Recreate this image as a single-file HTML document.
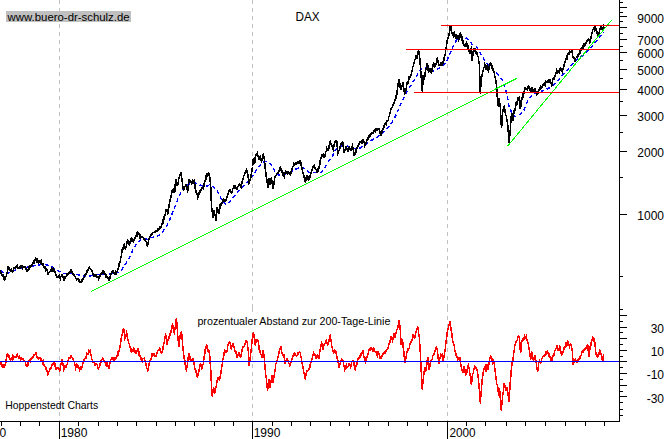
<!DOCTYPE html>
<html lang="de"><head><meta charset="utf-8"><title>DAX</title>
<style>html,body{margin:0;padding:0;background:#fff}body{width:667px;height:439px;overflow:hidden}svg{display:block}text{font-family:"Liberation Sans",Arial,sans-serif;font-size:12px;fill:#000}</style></head><body>
<svg width="667" height="439" viewBox="0 0 667 439">
<rect width="667" height="439" fill="#fff"/>
<g stroke="#c0c0c0" stroke-width="1" stroke-dasharray="4 4" shape-rendering="crispEdges">
<line x1="59.5" y1="0" x2="59.5" y2="308"/>
<line x1="59.5" y1="308" x2="59.5" y2="421"/>
<line x1="252.5" y1="0" x2="252.5" y2="308"/>
<line x1="252.5" y1="308" x2="252.5" y2="421"/>
<line x1="447.5" y1="0" x2="447.5" y2="308"/>
<line x1="447.5" y1="308" x2="447.5" y2="421"/>
</g>
<polyline fill="none" stroke="#0000ff" stroke-width="1.45" stroke-dasharray="3.8 2.9" shape-rendering="crispEdges" points="0.9,270.6 5.4,274.2 12.6,271.5 19.8,268.4 27.0,267.3 36.0,265.2 45.0,264.3 52.2,267.0 57.6,270.6 63.0,273.3 72.0,273.3 79.2,275.1 86.4,276.9 93.6,275.0 100.8,274.2 108.0,274.2 115.2,272.6 119.5,272.6 123.8,266.8 128.0,260.2 131.5,253.4 134.0,247.4 137.4,243.2 141.0,239.5 144.5,238.8 147.5,239.4 151.5,237.6 157.4,236.4 161.9,232.6 166.3,226.7 169.3,220.7 172.2,213.3 175.2,205.9 178.1,198.5 181.1,192.6 184.1,188.1 187.0,185.2 191.5,183.1 195.9,183.1 200.4,185.2 204.8,186.7 209.3,185.2 213.7,186.7 217.3,191.1 221.1,198.5 225.6,204.4 227.3,204.7 230.9,200.2 234.6,195.6 238.2,191.1 241.9,187.4 245.5,183.8 249.2,180.1 252.8,175.6 256.5,170.1 260.1,165.6 263.8,161.9 267.4,161.4 271.0,164.6 274.7,171.0 278.3,175.2 282.0,174.7 285.6,173.8 290.2,172.3 294.7,169.7 298.4,167.9 302.0,167.4 305.7,169.2 309.3,172.3 314.8,172.3 321.3,172.3 324.4,168.2 328.8,160.8 332.5,156.1 334.8,150.6 338.5,147.4 341.4,146.2 344.4,145.8 347.6,146.2 351.5,147.1 354.7,148.7 357.9,149.0 361.1,147.4 364.3,145.5 368.3,142.7 372.3,139.8 376.3,137.6 380.3,134.7 384.3,131.2 387.4,128.0 390.6,124.3 393.8,119.5 397.0,113.1 399.4,107.6 401.8,102.0 403.7,98.3 406.4,92.9 409.1,88.3 411.9,83.8 414.6,79.2 417.3,74.7 420.1,70.1 422.8,67.7 426.4,67.7 429.2,70.1 432.8,71.0 436.5,69.6 440.1,67.7 443.7,65.2 446.5,61.5 449.2,55.5 451.9,49.1 454.7,42.8 457.4,39.1 460.1,36.8 462.9,36.8 466.5,38.2 470.2,41.0 472.0,44.1 476.8,47.5 480.3,53.0 483.7,59.1 487.1,63.3 491.2,67.4 495.3,71.5 499.4,75.6 502.8,81.0 504.9,87.2 506.7,93.4 508.0,99.6 509.0,107.1 510.8,110.5 512.8,115.3 516.2,116.7 520.3,113.9 523.8,110.5 525.8,105.0 527.9,100.9 530.6,96.8 533.3,94.1 537.7,92.7 541.1,91.3 545.9,89.5 550.7,87.2 554.1,84.5 556.9,81.7 560.5,77.4 565.0,72.9 569.6,67.4 573.2,62.8 576.9,59.6 581.4,56.5 586.0,52.8 590.6,48.3 594.2,43.7 597.8,39.2 601.5,34.6 603.3,31.9"/>
<polyline fill="none" stroke="#000" stroke-width="1.6" stroke-linejoin="miter" shape-rendering="crispEdges" points="0.0,270.6 0.5,271.1 0.9,272.9 1.4,273.7 1.8,275.1 2.2,275.7 2.6,276.0 3.0,275.1 3.4,275.3 3.8,277.5 4.2,276.6 4.6,276.8 5.0,278.9 5.4,278.1 5.9,276.6 6.3,276.0 6.8,273.8 7.2,272.4 7.7,270.0 8.1,267.0 8.6,266.9 9.0,268.7 9.4,269.8 9.9,269.7 10.3,270.1 10.8,270.8 11.2,271.0 11.7,269.9 12.2,271.8 12.6,271.5 13.1,270.8 13.5,269.3 13.9,267.7 14.4,267.9 14.9,268.4 15.3,267.2 15.8,267.5 16.2,267.5 16.7,266.9 17.1,266.1 17.6,268.2 18.0,268.4 18.4,267.8 18.9,268.4 19.4,267.2 19.8,267.0 20.2,268.0 20.6,267.9 21.0,266.2 21.5,266.3 21.9,266.5 22.3,268.2 22.7,267.0 23.1,267.5 23.5,266.8 24.0,267.2 24.4,267.0 24.8,266.9 25.2,267.3 25.6,268.4 26.1,269.3 26.6,271.0 27.0,271.0 27.4,270.6 27.9,270.4 28.4,269.5 28.8,267.9 29.2,268.5 29.7,267.4 30.1,265.8 30.6,266.9 31.1,266.7 31.5,265.2 31.9,265.4 32.4,264.0 32.8,263.7 33.3,262.5 33.8,261.2 34.2,261.9 34.6,260.7 35.1,259.4 35.5,258.2 36.0,258.5 36.5,260.3 36.9,261.6 37.3,260.6 37.8,262.5 38.2,263.0 38.7,261.9 39.1,261.1 39.6,261.2 40.0,262.0 40.5,261.2 41.0,262.8 41.4,261.7 41.8,263.8 42.3,264.3 42.8,263.7 43.2,265.7 43.6,265.3 44.1,267.0 44.5,267.6 45.0,267.0 45.4,267.7 45.8,269.6 46.3,268.7 46.7,268.9 47.1,270.6 47.7,272.8 48.2,274.5 48.6,272.7 49.1,272.3 49.5,272.0 50.0,271.6 50.4,270.6 50.9,269.5 51.3,269.0 51.8,270.5 52.2,269.0 52.6,270.1 53.1,268.8 53.5,270.4 54.0,269.9 54.5,270.7 54.9,271.5 55.4,272.9 55.8,274.5 56.2,275.8 56.7,276.9 57.2,276.7 57.6,276.6 58.0,277.0 58.5,275.7 59.0,275.2 59.4,275.1 59.8,277.4 60.3,278.7 60.8,277.0 61.2,276.0 61.6,276.4 62.1,274.2 62.5,275.8 63.0,277.5 63.5,277.8 63.9,280.5 64.3,279.4 64.8,278.9 65.2,276.7 65.7,276.9 66.2,276.6 66.6,276.0 67.1,274.1 67.5,274.8 68.0,273.8 68.4,273.3 68.9,273.3 69.3,272.2 69.8,272.6 70.2,272.3 70.6,270.3 71.1,271.0 71.5,270.6 72.0,272.5 72.5,273.8 72.9,273.3 73.4,273.4 73.8,274.6 74.2,275.5 74.7,276.0 75.2,276.5 75.6,277.5 76.0,278.3 76.5,279.6 77.0,279.1 77.4,279.4 77.8,278.5 78.3,278.7 78.8,279.3 79.2,281.1 79.6,280.3 80.1,282.3 80.5,282.0 81.0,281.9 81.4,280.5 81.9,279.9 82.3,280.7 82.8,279.6 83.2,278.3 83.7,277.4 84.2,277.2 84.6,277.0 85.0,275.0 85.5,275.1 86.0,273.6 86.4,272.5 86.8,272.5 87.3,270.6 87.7,269.8 88.1,270.1 88.6,267.9 89.0,267.6 89.4,267.3 89.9,268.3 90.4,269.5 90.8,269.2 91.3,269.3 91.8,270.6 92.2,271.1 92.7,273.4 93.1,274.0 93.6,276.0 94.0,276.5 94.5,276.5 94.9,274.8 95.4,274.9 95.8,275.9 96.3,275.1 96.8,276.1 97.2,277.2 97.7,276.9 98.1,277.2 98.6,278.7 99.0,277.3 99.5,277.6 99.9,275.5 100.4,274.8 100.8,274.2 101.2,273.4 101.6,272.7 102.1,272.1 102.5,272.6 102.9,271.0 103.4,270.9 103.9,271.2 104.3,273.9 104.8,274.4 105.3,274.2 105.7,275.8 106.1,275.1 106.6,276.8 107.0,277.3 107.4,276.9 107.9,277.2 108.3,279.2 108.8,280.4 109.2,280.5 109.7,279.1 110.2,276.9 110.7,275.1 111.2,273.8 111.6,273.0 112.0,271.9 112.5,271.6 113.0,271.1 113.4,272.6 113.8,272.4 114.3,273.3 114.8,274.3 115.3,274.0 115.7,272.1 116.2,273.2 116.6,271.9 117.0,271.6 117.4,270.7 117.9,269.8 118.3,268.1 118.7,266.8 119.1,264.0 119.6,264.2 120.0,261.4 120.4,260.7 120.8,257.8 121.2,256.4 121.6,253.7 122.0,251.0 122.4,248.9 122.9,249.0 123.3,247.0 123.8,245.1 124.2,244.4 124.6,245.2 125.0,248.4 125.4,248.9 125.9,247.1 126.4,246.1 126.8,243.1 127.3,240.9 127.8,240.0 128.3,241.6 128.8,243.8 129.3,244.4 129.7,242.3 130.1,242.9 130.5,242.0 130.9,240.5 131.3,238.5 131.8,240.0 132.3,238.3 132.7,240.7 133.2,241.9 133.7,241.5 134.1,239.3 134.5,238.9 134.9,237.9 135.3,237.6 135.7,236.4 136.1,235.6 136.5,234.9 136.9,235.2 137.3,232.4 137.7,232.0 138.1,232.6 138.6,232.8 139.1,234.1 139.6,236.4 140.0,235.4 140.5,238.1 140.9,237.9 141.3,235.9 141.7,237.3 142.2,236.9 142.6,237.6 143.0,237.5 143.4,238.0 143.8,239.2 144.2,239.4 144.6,239.2 145.0,240.0 145.4,240.1 145.9,241.5 146.3,241.9 146.7,244.1 147.2,245.5 147.6,245.9 148.1,243.1 148.6,239.8 149.1,238.5 149.5,236.9 149.9,236.7 150.3,236.6 150.7,236.4 151.1,234.5 151.5,234.1 151.9,234.6 152.3,233.8 152.7,232.9 153.2,232.4 153.6,232.4 154.0,232.6 154.4,231.7 154.8,231.4 155.3,232.1 155.7,231.3 156.1,230.6 156.5,231.4 157.0,231.7 157.4,231.1 157.8,229.3 158.3,229.6 158.7,229.0 159.1,229.6 159.5,229.2 160.0,227.0 160.4,226.7 160.9,227.7 161.3,226.6 161.8,224.0 162.2,224.2 162.7,223.7 163.2,219.8 163.7,220.0 164.2,216.3 164.6,215.5 165.0,214.9 165.5,213.0 165.9,211.0 166.3,208.9 166.8,211.3 167.3,212.1 167.8,213.3 168.3,208.8 168.8,207.7 169.3,204.4 169.7,200.7 170.1,199.5 170.5,200.2 170.9,195.6 171.3,195.6 171.8,192.5 172.2,191.0 172.7,192.6 173.1,189.6 173.6,189.3 174.1,189.7 174.6,192.6 175.0,189.5 175.4,182.2 175.8,179.3 176.2,182.1 176.7,182.9 177.2,185.0 177.6,185.2 178.1,184.5 178.5,180.6 179.0,177.8 179.4,177.9 179.8,173.8 180.3,175.6 180.7,173.5 181.1,172.4 181.6,177.5 182.1,179.4 182.6,185.2 183.1,187.6 183.6,189.8 184.1,189.6 184.5,186.7 184.9,186.6 185.3,186.3 185.7,186.2 186.1,183.7 186.6,185.7 187.1,188.4 187.6,192.6 188.1,187.2 188.6,184.2 189.1,179.3 189.5,181.0 189.9,180.4 190.3,181.0 190.7,181.8 191.1,182.4 191.5,183.7 191.9,182.9 192.3,181.1 192.7,182.2 193.1,183.6 193.5,180.9 193.9,180.7 194.3,183.7 194.7,183.5 195.1,187.7 195.5,190.0 195.9,191.1 196.3,192.8 196.7,193.1 197.1,194.0 197.5,195.6 197.9,197.6 198.3,197.0 198.7,194.1 199.1,192.5 199.6,193.5 200.0,192.7 200.4,189.6 200.8,189.4 201.2,189.0 201.6,189.6 202.1,187.9 202.5,187.9 202.9,187.5 203.3,188.1 203.7,186.6 204.1,184.1 204.6,182.1 205.0,181.6 205.4,179.3 205.8,179.6 206.3,175.5 206.8,175.6 207.2,173.3 207.6,173.3 208.0,175.3 208.5,174.5 208.9,173.6 209.3,174.8 209.8,177.7 210.2,180.9 210.7,186.7 211.1,197.0 211.6,207.4 212.1,210.4 212.6,213.0 213.1,217.8 213.5,214.8 213.9,212.2 214.3,210.4 214.8,214.9 215.3,215.9 215.8,220.7 216.3,218.2 216.8,211.8 217.3,207.4 217.7,209.3 218.2,210.2 218.6,213.1 219.0,213.3 219.6,210.1 220.2,204.4 220.6,204.2 221.0,203.6 221.4,204.1 221.8,202.9 222.2,203.2 222.7,200.3 223.2,200.4 223.6,198.4 224.1,201.1 224.6,200.1 225.0,200.0 225.5,202.0 225.9,199.6 226.4,199.3 226.8,197.6 227.3,196.7 227.7,193.8 228.2,194.1 228.6,191.6 229.1,190.8 229.5,190.2 230.0,190.2 230.5,190.0 230.9,192.1 231.4,193.2 231.9,192.9 232.3,192.2 232.8,188.6 233.2,188.4 233.7,185.6 234.1,185.7 234.6,186.6 235.1,188.1 235.5,186.9 235.9,187.5 236.4,189.3 236.8,189.5 237.3,187.2 237.8,186.6 238.2,186.5 238.7,186.0 239.1,184.7 239.6,184.0 240.1,185.6 240.5,186.5 241.0,187.4 241.4,185.3 241.9,182.5 242.4,181.5 242.8,179.2 243.2,179.1 243.7,176.2 244.2,175.3 244.6,173.8 245.1,172.1 245.5,171.8 245.9,172.2 246.4,170.0 246.9,171.5 247.3,169.7 247.8,175.5 248.3,178.0 248.8,183.8 249.2,183.6 249.7,180.5 250.1,180.2 250.6,178.7 251.0,176.5 251.5,172.6 252.0,170.3 252.5,166.5 252.9,162.8 253.4,158.3 254.0,161.9 254.6,163.7 255.1,158.5 255.6,154.6 256.1,154.9 256.5,155.0 256.9,153.7 257.4,152.8 257.8,155.3 258.3,156.6 258.7,160.1 259.2,158.8 259.6,157.2 260.1,156.4 260.6,158.5 261.1,160.0 261.6,161.0 262.1,159.3 262.5,156.3 262.9,155.6 263.4,153.3 263.8,156.8 264.3,158.7 264.7,162.8 265.3,169.4 265.9,173.8 266.4,177.8 267.0,181.0 267.4,183.6 267.8,188.3 268.4,184.5 268.9,178.3 269.3,179.4 269.7,182.1 270.1,184.7 270.5,182.9 271.0,180.1 271.4,177.4 271.8,180.5 272.3,183.8 272.8,186.2 273.2,189.3 273.8,184.6 274.3,181.0 274.7,178.3 275.2,176.2 275.6,175.6 276.1,175.5 276.5,174.9 276.9,173.6 277.4,172.8 277.9,173.0 278.4,171.5 278.8,170.8 279.3,171.0 279.9,168.4 280.5,166.5 281.0,169.3 281.5,168.8 282.0,171.9 282.4,172.8 282.9,173.0 283.3,175.4 283.8,175.2 284.2,176.5 284.7,174.2 285.1,172.6 285.6,171.0 286.0,171.5 286.5,172.5 286.9,171.7 287.4,173.4 287.8,172.8 288.3,172.1 288.8,172.9 289.2,172.8 289.7,173.2 290.2,174.7 290.6,174.1 291.1,172.6 291.6,169.7 292.0,169.2 292.4,167.2 292.9,166.7 293.4,166.4 293.8,164.6 294.2,165.4 294.6,165.0 295.0,164.5 295.4,163.1 295.8,163.7 296.2,163.0 296.6,163.7 297.1,163.4 297.5,163.1 298.0,161.7 298.4,161.5 298.9,162.6 299.3,161.4 299.8,160.7 300.2,163.4 300.7,164.2 301.1,163.7 301.5,167.4 302.0,168.2 302.4,171.0 302.9,172.7 303.4,174.3 303.9,175.6 304.4,178.1 304.8,181.2 305.3,182.0 305.8,180.9 306.2,178.2 306.7,178.2 307.1,175.6 307.5,177.1 308.0,178.9 308.4,180.1 308.8,179.6 309.3,176.5 309.8,177.5 310.2,175.6 310.7,174.5 311.1,172.4 311.6,170.9 312.1,169.2 312.6,168.2 313.0,166.5 313.4,166.6 313.9,165.6 314.3,165.2 314.8,167.4 315.2,168.7 315.7,169.2 316.1,169.5 316.6,170.3 317.1,171.8 317.5,171.0 318.0,171.0 318.4,167.7 318.9,168.4 319.4,166.5 319.8,164.4 320.2,160.4 320.6,159.2 321.1,157.9 321.6,156.6 322.0,155.3 322.5,155.6 323.0,154.6 323.4,156.3 323.9,155.0 324.4,157.0 324.8,156.4 325.3,154.9 325.8,151.3 326.2,151.3 326.7,148.2 327.1,149.0 327.6,150.3 328.1,150.2 328.5,150.1 328.9,148.4 329.4,144.9 329.9,143.8 330.3,140.6 330.7,143.0 331.2,144.1 331.6,144.3 332.1,146.0 332.7,148.7 333.2,149.8 333.6,148.0 334.0,145.2 334.4,143.2 334.8,142.7 335.3,141.1 335.8,141.1 336.2,140.6 336.7,141.1 337.1,145.1 337.6,149.6 338.0,153.0 338.4,152.1 338.8,150.8 339.2,150.4 339.6,149.0 340.1,146.6 340.7,145.2 341.2,143.5 341.6,144.0 342.0,142.8 342.4,142.0 342.8,142.7 343.3,147.3 343.9,150.2 344.4,153.0 344.8,150.8 345.2,149.0 345.6,147.7 346.0,145.8 346.4,147.7 346.8,148.2 347.2,149.2 347.6,152.2 348.1,149.8 348.6,149.8 349.1,147.4 349.5,147.0 349.9,148.6 350.3,148.5 350.7,149.1 351.1,150.6 351.7,147.3 352.3,145.8 352.7,147.6 353.1,149.0 353.5,150.7 353.9,153.0 354.3,156.2 354.9,153.7 355.5,153.0 355.9,151.8 356.3,149.4 356.7,148.1 357.1,148.2 357.6,147.0 358.2,145.8 358.7,145.0 359.1,144.8 359.5,142.2 359.9,142.4 360.3,141.9 360.8,142.1 361.4,141.6 361.9,143.5 362.3,143.5 362.8,140.0 363.2,139.5 363.6,139.9 364.0,142.6 364.4,143.3 364.8,145.8 365.3,144.8 365.9,142.8 366.4,141.9 366.9,139.8 367.4,138.6 367.8,139.5 368.3,137.9 368.8,136.2 369.4,136.6 369.9,134.7 370.3,134.3 370.7,135.3 371.1,133.2 371.5,132.7 371.9,132.5 372.3,132.8 372.8,133.3 373.3,132.3 373.7,131.1 374.2,130.0 374.7,130.7 375.1,131.0 375.5,131.6 375.9,130.4 376.3,128.6 376.7,128.5 377.1,129.6 377.6,128.5 378.1,128.8 378.5,128.5 379.0,128.6 379.5,129.9 379.9,131.5 380.3,133.4 380.7,132.7 381.1,134.7 381.7,133.6 382.3,129.9 382.7,129.0 383.1,129.0 383.5,128.4 383.9,127.6 384.3,125.5 384.7,123.6 385.1,123.7 385.6,123.9 386.0,123.0 386.4,123.7 386.9,120.7 387.4,120.8 387.8,120.8 388.3,120.2 388.8,116.5 389.3,116.0 389.9,113.2 390.5,111.0 391.0,109.0 391.5,108.0 391.9,107.8 392.4,107.7 392.8,104.8 393.2,105.0 393.6,104.4 394.0,103.2 394.5,102.2 394.9,100.0 395.4,98.8 395.9,98.4 396.3,95.5 396.8,94.5 397.3,90.7 397.7,86.6 398.2,83.8 398.6,82.3 399.1,79.2 399.6,82.8 400.1,85.8 400.6,90.1 401.2,86.8 401.8,86.5 402.2,86.0 402.7,83.9 403.1,81.9 403.6,87.1 404.1,89.9 404.6,94.7 405.1,92.8 405.5,89.5 405.9,90.2 406.4,87.4 406.8,83.7 407.3,84.1 407.8,83.8 408.2,81.0 408.6,80.7 409.1,76.9 409.6,76.4 410.0,76.5 410.5,76.7 410.9,74.4 411.4,74.1 411.9,71.0 412.3,70.6 412.8,66.7 413.2,66.6 413.7,62.8 414.1,62.9 414.6,60.3 415.1,59.5 415.5,59.2 415.9,56.4 416.4,56.9 416.9,58.5 417.3,55.5 417.7,51.9 418.2,52.2 418.6,50.1 419.1,52.5 419.7,58.3 420.1,61.9 420.6,69.9 421.0,74.7 421.5,79.3 421.9,84.2 422.4,92.0 422.9,81.8 423.3,74.7 423.7,76.5 424.2,77.5 424.6,78.3 425.1,72.8 425.6,70.4 426.1,68.3 426.7,67.6 427.3,62.8 427.7,64.9 428.2,69.7 428.6,72.8 429.1,70.9 429.6,71.1 430.1,68.3 430.6,70.3 431.0,72.6 431.5,72.8 432.0,70.7 432.4,66.9 432.9,64.5 433.4,63.7 433.8,62.7 434.3,67.0 434.8,64.7 435.2,67.4 435.6,63.2 436.1,65.4 436.6,59.9 437.0,59.2 437.4,62.5 437.9,60.5 438.4,63.8 438.8,65.5 439.2,63.7 439.7,65.9 440.1,64.4 440.6,64.0 441.0,62.8 441.4,64.2 441.9,64.8 442.3,62.7 442.8,64.0 443.2,63.7 443.7,61.0 444.2,57.1 444.7,56.4 445.2,54.9 445.6,50.8 446.1,47.3 446.5,46.3 447.0,41.1 447.4,40.0 447.8,39.0 448.3,37.4 448.7,36.4 449.2,34.2 449.8,30.0 450.2,26.3 450.7,26.4 451.3,28.9 451.9,32.8 452.4,33.9 452.9,33.3 453.4,36.4 453.8,35.7 454.3,35.7 454.7,33.7 455.1,34.9 455.6,37.4 456.0,38.2 456.5,37.8 456.9,35.1 457.4,35.5 457.9,36.0 458.4,40.1 458.9,39.1 459.3,36.6 459.7,35.2 460.1,33.7 460.5,33.3 461.0,35.4 461.4,38.2 461.9,37.6 462.4,42.0 462.9,41.0 463.3,42.9 463.8,44.5 464.2,45.9 464.7,44.6 465.1,44.7 465.6,45.6 466.1,43.4 466.5,42.8 466.9,43.6 467.4,47.1 467.9,48.0 468.3,47.3 468.8,51.1 469.3,50.9 469.8,52.8 470.2,52.8 470.7,49.9 471.1,49.1 471.8,60.5 472.2,58.3 472.7,51.6 473.2,52.8 473.6,49.3 474.1,49.6 474.5,51.9 474.9,49.0 475.4,49.0 475.8,52.2 476.2,51.6 476.6,51.9 477.0,54.1 477.5,55.8 477.9,56.4 478.4,56.6 478.8,62.1 479.3,63.3 479.8,78.3 480.4,94.0 480.8,85.8 481.2,79.7 481.8,76.6 482.3,74.2 482.8,71.2 483.2,70.8 483.7,67.4 484.2,67.1 484.8,64.6 485.2,65.5 485.7,66.5 486.1,70.1 486.6,67.2 487.1,66.0 487.6,67.9 488.0,68.6 488.5,72.8 488.9,67.8 489.4,66.0 489.9,65.1 490.5,61.9 491.0,64.2 491.4,66.8 491.9,66.0 492.4,69.3 492.8,70.0 493.3,69.4 493.7,70.9 494.2,72.0 494.6,75.6 495.1,76.6 495.5,79.0 496.0,81.0 496.6,86.9 497.1,92.5 497.8,106.4 498.4,102.5 498.9,98.2 499.3,99.4 499.8,103.4 500.2,103.7 500.8,119.4 501.2,122.9 501.6,128.3 502.1,119.2 502.6,110.5 503.0,110.6 503.5,108.7 503.9,105.7 504.4,107.1 504.8,109.1 505.3,112.6 505.8,116.2 506.2,114.9 506.7,119.4 507.1,120.2 507.6,124.5 508.0,126.9 508.5,135.0 509.0,142.7 509.6,136.8 510.1,133.8 510.8,121.5 511.2,116.8 511.7,114.7 512.1,113.3 512.8,120.8 513.3,118.6 513.7,113.8 514.2,110.5 514.7,110.8 515.3,108.1 515.8,105.0 516.3,106.2 516.7,101.1 517.2,102.3 517.7,99.9 518.1,98.1 518.5,98.9 519.0,98.2 519.4,101.1 519.9,103.5 520.3,109.1 520.8,106.1 521.2,100.9 521.7,99.6 522.2,97.6 522.6,96.1 523.0,97.4 523.5,94.8 524.0,92.9 524.5,90.6 524.9,88.1 525.4,88.6 525.8,88.0 526.2,88.6 526.6,88.5 527.0,89.3 527.4,87.2 527.8,88.6 528.2,86.1 528.7,85.6 529.1,88.4 529.5,87.2 530.0,89.9 530.4,90.0 530.9,91.3 531.3,91.6 531.8,89.3 532.2,87.9 532.7,88.7 533.1,90.0 533.6,93.3 534.1,89.6 534.5,90.8 535.0,88.6 535.4,90.9 535.8,92.2 536.2,92.2 536.6,93.9 537.0,94.7 537.5,94.5 537.9,92.8 538.4,90.6 538.8,90.5 539.2,89.6 539.6,89.5 540.0,88.1 540.4,88.6 540.8,87.2 541.2,88.0 541.7,88.3 542.1,86.5 542.5,85.8 542.9,85.0 543.3,84.3 543.7,84.1 544.1,84.5 544.5,83.1 544.9,82.7 545.3,83.8 545.8,81.3 546.2,81.5 546.6,81.7 547.0,81.6 547.4,81.1 547.8,82.1 548.2,81.9 548.6,80.8 549.0,82.2 549.4,81.5 549.9,80.0 550.3,81.7 550.7,81.7 551.2,83.6 551.8,85.3 552.3,83.1 552.7,80.4 553.2,78.8 553.7,78.8 554.1,78.8 554.5,76.0 555.0,76.5 555.5,75.4 555.9,72.9 556.3,71.7 556.8,70.1 557.3,71.8 557.8,72.6 558.2,72.3 558.7,72.5 559.2,70.6 559.6,71.6 560.0,68.5 560.5,68.3 561.0,68.6 561.4,70.6 561.8,69.8 562.3,71.0 562.8,68.8 563.2,69.1 563.6,67.5 564.1,64.7 564.6,62.8 565.0,61.6 565.5,60.0 566.0,59.2 566.5,57.0 566.9,56.2 567.3,57.1 567.8,54.6 568.2,53.2 568.7,53.4 569.1,53.1 569.6,53.7 570.0,51.9 570.5,52.5 570.9,52.5 571.4,52.1 571.8,50.5 572.3,53.2 572.7,56.0 573.2,57.4 573.7,56.9 574.2,58.6 574.6,61.4 575.1,61.0 575.5,59.0 576.0,58.7 576.5,58.5 576.9,57.7 577.4,56.3 577.9,56.2 578.3,54.0 578.8,53.8 579.3,53.7 579.7,53.9 580.1,50.5 580.6,51.6 581.0,48.5 581.4,48.3 581.8,49.3 582.2,48.0 582.6,47.5 583.0,45.7 583.4,45.1 583.8,46.6 584.2,45.5 584.7,43.9 585.1,43.2 585.6,44.2 586.0,43.7 586.5,41.9 586.9,40.1 587.4,42.1 587.8,40.4 588.3,39.4 588.7,39.2 589.2,40.3 589.6,43.7 590.1,41.3 590.5,41.0 591.0,36.9 591.5,35.5 592.0,32.9 592.4,31.3 592.8,29.7 593.3,29.1 593.8,28.0 594.2,28.9 594.6,25.9 595.1,26.4 595.5,26.9 596.0,30.4 596.5,31.9 596.9,31.9 597.3,34.1 597.8,33.0 598.2,34.6 598.7,32.7 599.2,32.8 599.7,30.0 600.2,28.9 600.6,28.4 601.1,26.8 601.5,27.3 602.0,27.6 602.4,30.0 602.8,28.5 603.3,28.6 603.7,26.8 604.2,28.3 604.8,28.2"/>
<g stroke="#00ff00" stroke-width="1" fill="none" shape-rendering="crispEdges">
<line x1="91.4" y1="291.5" x2="517" y2="78.3"/>
<line x1="507.4" y1="146.4" x2="611.7" y2="20"/>
</g>
<g stroke="#ff0000" stroke-width="1" shape-rendering="crispEdges">
<line x1="441" y1="25.5" x2="619" y2="25.5"/>
<line x1="406" y1="49.5" x2="619" y2="49.5"/>
<line x1="414" y1="92.5" x2="619" y2="92.5"/>
</g>
<rect x="196" y="312" width="196" height="20" fill="#fff"/>
<polyline fill="none" stroke="#ff0000" stroke-width="1.5" shape-rendering="crispEdges" points="0.0,362.3 0.4,362.6 0.9,362.8 1.3,365.2 1.8,364.2 2.2,366.4 2.7,366.8 3.2,366.5 3.6,365.8 4.1,367.5 4.6,367.7 5.0,364.6 5.4,364.2 5.8,362.8 6.3,358.4 6.8,355.4 7.3,353.7 7.8,354.4 8.2,356.5 8.7,355.2 9.1,357.3 9.5,356.8 10.0,358.5 10.4,359.9 10.9,359.1 11.3,359.2 11.8,357.9 12.2,358.9 12.7,355.0 13.1,355.5 13.6,357.3 14.0,356.2 14.4,356.5 14.9,358.3 15.3,356.5 15.7,356.6 16.1,357.7 16.5,355.1 16.9,355.8 17.3,355.0 17.8,356.3 18.3,356.3 18.7,357.7 19.2,357.0 19.7,359.2 20.1,357.6 20.5,358.0 20.9,359.3 21.4,358.4 21.8,357.9 22.2,358.3 22.6,359.0 23.0,359.1 23.4,359.0 23.8,361.0 24.2,361.2 24.6,361.0 25.1,361.3 25.6,363.4 26.0,364.3 26.5,366.5 27.0,366.4 27.4,365.9 27.9,363.3 28.4,364.3 28.8,361.5 29.2,359.9 29.6,360.5 30.1,361.2 30.5,358.9 30.9,359.5 31.3,359.2 31.7,357.1 32.1,358.5 32.5,358.2 32.9,357.0 33.3,357.3 33.7,355.5 34.1,354.4 34.6,355.0 35.0,354.2 35.5,353.6 35.9,352.8 36.3,353.7 36.7,355.9 37.1,357.3 37.5,356.8 37.9,357.9 38.3,358.5 38.8,356.7 39.2,358.8 39.7,358.7 40.1,358.3 40.5,360.4 41.0,360.4 41.4,359.2 41.9,360.1 42.3,361.0 42.7,362.6 43.1,361.6 43.5,364.1 43.9,364.3 44.3,366.4 44.7,365.9 45.1,366.5 45.6,369.5 46.0,368.2 46.4,370.1 46.9,370.4 47.3,372.0 47.8,374.7 48.3,374.6 48.8,371.7 49.2,371.3 49.6,370.0 50.1,368.3 50.5,368.8 51.0,367.9 51.5,367.4 51.9,365.5 52.4,364.2 52.9,363.9 53.3,363.1 53.8,364.2 54.3,362.3 54.8,365.7 55.2,365.1 55.6,367.1 56.1,370.1 56.5,368.6 57.0,368.0 57.5,368.3 57.9,367.7 58.3,369.0 58.8,369.0 59.2,369.3 59.6,371.9 60.1,368.9 60.5,366.0 61.0,363.7 61.4,362.2 61.9,361.7 62.3,358.6 62.8,363.0 63.3,366.3 63.8,370.1 64.2,369.6 64.7,368.8 65.1,365.9 65.6,366.4 66.0,366.8 66.5,365.5 66.9,364.9 67.4,363.8 67.8,361.9 68.2,360.6 68.7,359.6 69.1,357.6 69.6,357.9 70.0,358.2 70.5,356.2 71.0,356.1 71.4,357.3 71.9,357.1 72.4,357.7 72.8,359.0 73.3,358.8 73.8,361.0 74.2,361.2 74.7,363.5 75.1,365.2 75.6,368.3 76.0,367.2 76.5,365.4 77.0,367.4 77.4,365.5 77.9,366.8 78.4,366.2 78.8,367.5 79.3,368.7 79.8,370.1 80.2,368.9 80.7,367.4 81.1,369.0 81.6,368.7 82.0,366.4 82.5,364.9 82.9,363.6 83.3,361.0 83.8,361.0 84.2,359.1 84.7,359.1 85.1,358.2 85.6,358.3 86.0,358.2 86.5,354.9 87.0,353.3 87.4,353.7 87.9,354.5 88.3,352.4 88.8,350.5 89.3,351.0 89.8,352.0 90.2,351.3 90.6,353.8 91.1,354.6 91.5,358.0 92.0,359.4 92.5,360.7 92.9,361.9 93.4,361.8 93.8,362.8 94.2,362.9 94.7,364.6 95.2,365.2 95.6,364.3 96.0,364.8 96.5,363.7 96.9,364.0 97.4,364.4 97.8,367.1 98.3,368.5 98.7,367.7 99.2,367.5 99.6,366.0 100.0,364.7 100.5,362.3 100.9,362.4 101.3,360.2 101.7,360.5 102.1,359.4 102.5,359.2 102.9,358.2 103.4,358.7 103.8,360.0 104.2,360.4 104.7,362.3 105.1,362.2 105.5,364.2 105.9,363.1 106.4,365.2 106.8,365.9 107.2,364.9 107.6,367.1 108.0,365.9 108.4,366.1 108.8,366.8 109.2,368.4 109.7,364.7 110.2,362.0 110.7,360.2 111.2,359.4 111.8,359.1 112.3,356.7 112.7,358.7 113.1,358.4 113.5,359.9 113.9,361.3 114.3,361.2 114.7,358.9 115.1,359.7 115.6,359.5 116.0,358.0 116.4,356.1 116.8,356.4 117.2,354.9 117.6,353.5 118.0,354.9 118.4,353.4 118.9,350.7 119.4,350.0 119.9,346.9 120.4,345.0 121.0,339.7 121.5,336.6 121.9,334.7 122.3,334.9 122.8,332.6 123.2,329.3 123.6,328.8 124.1,330.9 124.5,334.3 125.0,338.7 125.5,337.9 126.1,335.5 126.6,332.5 127.0,333.4 127.5,337.6 127.9,340.2 128.3,340.7 128.8,342.9 129.2,343.6 129.7,345.8 130.1,347.2 130.5,347.1 130.9,348.0 131.3,352.3 131.7,352.0 132.1,351.7 132.5,350.4 133.0,350.9 133.4,348.5 133.8,347.9 134.2,350.3 134.6,351.4 135.0,350.6 135.4,352.0 135.8,354.0 136.2,352.3 136.6,351.1 137.1,351.2 137.5,349.1 137.9,348.9 138.3,350.1 138.7,350.6 139.1,354.5 139.5,354.2 139.9,356.1 140.3,356.6 140.7,357.6 141.2,359.3 141.6,358.3 142.0,359.2 142.4,360.3 142.8,358.8 143.2,358.6 143.6,358.4 144.0,358.1 144.4,358.0 144.8,360.8 145.3,361.4 145.7,362.3 146.1,365.3 146.6,368.3 147.2,368.4 147.7,371.5 148.2,368.7 148.7,366.8 149.2,363.3 149.6,362.4 150.0,360.7 150.4,360.2 150.8,359.3 151.2,358.1 151.6,358.2 152.0,355.2 152.5,355.8 152.9,354.0 153.3,354.0 153.8,353.7 154.3,355.7 154.7,355.3 155.2,355.9 155.7,356.1 156.1,355.9 156.5,355.4 157.0,352.9 157.4,352.4 157.8,351.0 158.2,350.4 158.6,349.8 159.0,349.8 159.4,348.4 159.8,347.9 160.2,349.0 160.6,349.9 161.1,352.4 161.5,352.6 161.9,353.0 162.3,352.2 162.7,350.3 163.1,346.1 163.5,345.0 163.9,342.8 164.4,341.2 165.0,337.8 165.5,333.6 165.9,335.2 166.3,338.0 166.8,341.8 167.2,344.8 167.6,341.8 168.0,340.7 168.4,338.5 168.8,338.8 169.2,336.6 169.6,336.3 170.0,335.4 170.5,331.8 170.9,332.4 171.3,330.5 171.8,328.9 172.2,325.2 172.7,324.3 173.2,328.3 173.6,331.3 174.1,332.5 174.5,329.2 175.0,329.2 175.4,325.4 175.9,321.3 176.4,317.8 176.9,324.1 177.4,330.5 177.9,337.5 178.4,342.5 178.9,346.9 179.4,341.7 179.8,338.5 180.3,334.6 180.9,333.1 181.5,331.5 182.0,336.8 182.5,342.1 183.0,348.9 183.5,351.8 183.9,356.5 184.4,359.2 184.8,360.1 185.2,364.3 185.6,366.4 186.0,367.5 186.4,371.5 186.8,367.6 187.2,365.2 187.7,361.5 188.1,358.1 188.5,355.0 188.9,356.3 189.3,353.0 189.8,356.2 190.2,359.1 190.7,358.6 191.2,362.2 191.6,360.8 192.0,359.5 192.4,361.3 192.8,359.1 193.2,359.2 193.6,360.1 194.0,363.0 194.4,366.6 194.8,368.4 195.2,369.4 195.6,370.1 196.0,371.2 196.5,375.1 196.9,375.4 197.3,376.6 197.8,375.5 198.4,371.9 198.9,371.5 199.4,367.4 199.9,366.6 200.4,363.3 200.9,364.7 201.5,365.1 202.0,368.1 202.4,367.7 202.8,365.0 203.3,363.7 203.7,361.0 204.2,356.2 204.6,355.3 205.1,350.7 205.6,347.3 206.1,347.8 206.6,344.6 207.0,346.5 207.4,348.2 207.8,350.7 208.3,350.5 208.7,351.4 209.2,349.7 209.7,355.6 210.2,363.0 210.8,371.0 211.3,381.4 211.8,389.2 212.3,396.8 212.9,391.4 213.5,387.6 214.1,389.4 214.7,393.7 215.1,390.6 215.6,388.2 216.0,386.6 216.4,385.5 216.9,382.2 217.5,379.5 218.0,377.4 218.5,379.2 219.0,378.7 219.5,380.4 220.0,378.0 220.4,374.6 220.9,373.3 221.5,368.7 222.1,365.1 222.6,360.8 223.1,358.8 223.6,356.9 224.1,353.3 224.5,353.5 225.0,350.7 225.5,351.6 226.1,351.1 226.6,352.8 227.0,350.4 227.4,349.6 227.9,344.6 228.3,343.6 228.8,343.9 229.2,342.0 229.7,341.5 230.2,343.9 230.6,347.4 231.1,348.7 231.5,347.1 231.9,346.2 232.4,345.5 232.8,343.6 233.3,346.8 233.9,346.5 234.4,348.7 234.9,350.8 235.3,351.4 235.8,351.7 236.3,354.2 236.8,355.5 237.3,357.9 237.8,355.7 238.4,353.1 238.9,352.8 239.4,353.3 239.9,354.8 240.4,357.9 240.9,356.3 241.5,352.3 242.0,350.7 242.5,348.3 242.9,346.6 243.4,346.6 243.8,346.9 244.2,346.3 244.7,344.9 245.1,343.6 245.6,341.9 246.2,340.7 246.7,340.5 247.2,342.6 247.6,345.8 248.1,348.7 248.6,356.3 249.2,366.1 249.6,362.5 250.0,358.5 250.4,355.8 251.0,351.7 251.6,344.6 252.0,342.3 252.4,337.2 252.8,333.3 253.3,332.8 253.8,335.5 254.3,334.3 254.8,339.3 255.3,345.6 255.8,343.1 256.2,339.9 256.7,339.5 257.1,339.5 257.6,340.1 258.0,340.5 258.5,343.9 258.9,346.3 259.4,350.7 259.9,351.7 260.3,351.2 260.8,353.8 261.4,355.1 261.9,357.9 262.3,353.9 262.7,352.1 263.1,349.7 263.6,352.0 264.0,355.7 264.5,361.0 265.0,366.5 265.5,373.3 266.1,376.5 266.6,381.4 267.1,386.3 267.6,390.7 268.2,385.1 268.8,379.4 269.2,382.9 269.7,385.4 270.1,387.6 270.6,384.2 271.2,380.6 271.7,375.3 272.2,377.3 272.6,379.5 273.1,382.5 273.5,381.2 274.0,375.7 274.4,374.7 274.8,371.2 275.3,368.9 275.7,364.3 276.2,363.0 276.6,362.8 277.0,361.7 277.4,359.6 277.8,357.9 278.2,356.8 278.6,355.3 279.1,351.3 279.5,350.7 280.0,349.3 280.4,347.7 280.9,346.2 281.4,349.8 281.8,352.2 282.3,353.8 282.7,355.3 283.1,355.1 283.6,356.6 284.0,355.8 284.6,360.5 285.2,364.0 285.8,362.1 286.4,358.9 286.8,358.8 287.2,358.9 287.7,360.1 288.1,362.0 288.6,362.9 289.2,363.5 289.7,366.1 290.2,365.5 290.7,362.9 291.2,361.0 291.7,360.0 292.1,358.7 292.6,356.9 293.1,356.1 293.7,354.1 294.2,352.8 294.6,351.8 295.0,355.0 295.5,355.4 295.9,355.2 296.3,355.8 296.8,355.2 297.4,355.0 297.9,353.8 298.4,351.7 298.8,353.2 299.3,351.7 299.8,352.3 300.3,353.1 300.8,355.8 301.4,358.4 302.0,362.5 302.5,365.8 302.9,366.8 303.4,370.3 303.9,372.9 304.5,374.0 304.9,377.8 305.3,378.5 305.7,376.1 306.2,373.4 306.6,371.4 307.1,370.9 307.7,371.1 308.2,370.0 308.6,370.2 309.0,369.1 309.4,368.5 309.8,367.4 310.3,364.3 310.8,362.8 311.3,362.2 311.8,359.4 312.2,358.9 312.7,356.1 313.1,354.9 313.5,355.3 313.9,353.0 314.3,354.0 314.7,353.6 315.1,355.3 315.6,357.6 316.0,358.1 316.5,357.7 316.9,356.7 317.4,355.1 317.9,355.8 318.3,357.9 318.8,359.2 319.2,356.0 319.7,352.9 320.1,349.9 320.6,346.3 321.0,346.4 321.5,342.8 322.0,343.9 322.4,348.4 322.9,348.9 323.3,349.0 323.8,344.8 324.2,344.9 324.6,343.8 325.1,343.8 325.7,343.2 326.2,340.7 326.7,342.2 327.2,343.4 327.7,345.8 328.2,342.8 328.6,343.2 329.1,339.7 329.7,336.7 330.3,335.6 330.8,339.3 331.2,341.3 331.7,345.8 332.2,347.9 332.7,351.4 333.2,352.0 333.6,350.3 334.0,352.0 334.4,350.5 334.8,349.9 335.2,352.2 335.6,352.6 336.1,352.1 336.5,354.0 337.0,357.7 337.4,358.8 337.9,361.2 338.4,363.3 338.9,368.4 339.4,364.7 339.9,364.2 340.4,362.2 340.8,361.3 341.2,360.1 341.6,358.8 342.0,359.2 342.5,359.7 342.9,360.6 343.4,362.2 343.8,366.0 344.3,366.1 344.7,370.4 345.2,369.5 345.6,368.1 346.1,365.3 346.6,364.4 347.0,367.3 347.5,366.3 347.9,366.2 348.4,366.1 348.8,363.4 349.2,363.3 349.6,363.6 350.0,364.5 350.4,367.1 350.8,366.3 351.3,364.9 351.7,362.5 352.2,361.2 352.7,361.3 353.2,361.1 353.7,362.2 354.2,364.9 354.7,370.4 355.1,367.9 355.5,368.9 355.9,365.9 356.3,365.3 356.8,365.0 357.3,361.1 357.8,360.2 358.3,358.4 358.9,358.2 359.4,357.1 359.8,355.3 360.2,355.1 360.6,356.2 361.0,354.0 361.5,354.5 361.9,353.5 362.4,352.2 362.9,351.0 363.3,354.4 363.7,356.5 364.1,357.3 364.5,359.2 365.0,361.4 365.5,362.2 365.9,359.2 366.4,359.9 366.8,357.5 367.2,356.1 367.7,355.5 368.1,353.8 368.6,352.0 369.0,350.5 369.4,348.9 369.9,350.9 370.3,347.5 370.7,347.9 371.1,348.2 371.5,348.2 371.9,348.5 372.3,350.3 372.7,349.9 373.1,351.6 373.5,349.6 374.0,351.1 374.4,350.1 374.8,351.0 375.2,351.8 375.6,351.9 376.0,351.7 376.4,352.3 376.8,354.0 377.2,352.9 377.6,354.9 378.1,353.4 378.5,352.3 378.9,353.0 379.3,355.5 379.7,357.1 380.1,356.6 380.5,356.8 380.9,359.2 381.4,357.2 381.8,355.8 382.3,356.1 382.7,354.8 383.1,353.2 383.6,352.9 384.0,353.0 384.4,351.8 384.8,352.4 385.2,353.0 385.6,352.2 386.0,351.0 386.4,350.1 386.8,349.5 387.3,349.2 387.7,348.1 388.1,347.9 388.6,346.0 389.2,343.8 389.7,343.8 390.2,340.7 390.7,340.5 391.2,336.6 391.7,336.8 392.1,339.3 392.6,340.7 393.2,337.6 393.8,333.6 394.3,336.1 394.7,335.4 395.2,337.7 395.7,334.6 396.2,332.1 396.7,330.5 397.3,328.6 397.9,327.4 398.4,324.7 398.8,323.8 399.3,319.8 399.9,326.3 400.4,330.5 401.1,344.6 401.7,342.9 402.3,338.9 402.9,342.5 403.4,349.2 403.8,351.1 404.2,356.7 404.6,360.7 405.0,362.8 405.5,360.1 405.9,357.8 406.4,354.9 406.8,351.9 407.2,351.7 407.6,352.0 408.0,349.2 408.4,349.4 408.8,348.6 409.2,348.2 409.6,345.8 410.1,344.1 410.5,342.8 410.9,342.1 411.4,342.3 411.8,340.4 412.3,338.9 412.8,337.8 413.2,334.4 413.6,336.0 414.0,336.6 414.4,337.8 414.8,337.8 415.3,335.0 415.9,332.6 416.4,329.8 416.8,327.8 417.3,329.6 417.8,327.2 418.2,327.5 418.8,334.0 419.4,337.8 419.9,346.8 420.5,354.9 420.9,363.9 421.4,374.2 421.9,381.0 422.3,390.2 422.9,382.6 423.5,376.5 424.1,372.4 424.6,367.4 425.1,370.3 425.7,372.0 426.3,366.8 426.9,364.0 427.4,359.2 428.0,357.1 428.6,363.5 429.2,369.7 429.8,366.5 430.3,362.8 430.8,361.3 431.4,359.6 431.9,359.4 432.3,358.6 432.7,355.6 433.1,355.4 433.5,354.9 434.0,353.6 434.4,354.0 434.9,351.4 435.4,350.0 435.9,348.9 436.4,345.8 436.8,348.0 437.2,349.5 437.6,352.6 438.1,356.9 438.7,362.8 439.1,362.8 439.5,360.6 439.9,357.9 440.3,357.1 440.8,355.0 441.2,356.0 441.7,356.0 442.1,354.9 442.7,358.0 443.3,361.7 443.9,356.9 444.4,353.7 444.8,351.6 445.2,349.8 445.6,345.8 446.1,340.9 446.7,337.8 447.2,332.3 447.8,329.8 448.4,327.0 449.0,325.3 449.6,322.7 450.1,320.7 450.7,326.4 451.3,330.9 451.9,333.9 452.4,338.9 452.8,341.3 453.2,342.5 453.6,343.2 454.0,344.6 454.5,346.3 454.9,351.4 455.4,352.6 455.9,353.5 456.4,356.6 456.9,357.1 457.3,356.8 457.7,357.4 458.1,359.7 458.5,359.4 459.0,358.0 459.4,359.3 459.9,357.1 460.4,361.7 461.0,366.3 461.4,367.0 461.8,368.8 462.2,371.1 462.6,373.1 463.1,371.4 463.7,370.0 464.2,366.3 464.7,368.2 465.1,372.0 465.6,375.4 466.1,372.6 466.7,373.1 467.2,369.7 467.8,366.3 468.3,365.1 468.8,366.7 469.4,369.8 469.9,374.2 470.4,377.3 470.8,382.3 471.3,384.5 471.9,380.6 472.4,374.2 472.8,373.5 473.2,372.9 473.6,371.3 474.0,368.5 474.4,367.6 474.8,366.7 475.2,368.7 475.6,366.9 476.1,368.7 476.5,367.4 476.9,370.4 477.4,370.8 477.8,373.8 478.2,377.3 478.6,381.1 479.1,387.4 479.7,394.7 480.4,403.8 480.9,394.8 481.5,387.9 482.1,380.6 482.7,376.5 483.2,372.4 483.8,369.7 484.4,367.5 485.0,366.3 485.6,370.6 486.1,371.9 486.6,366.7 487.2,364.0 487.8,368.3 488.4,369.7 488.9,363.6 489.5,359.4 490.1,357.2 490.7,356.0 491.2,358.2 491.8,358.3 492.4,362.2 492.9,364.0 493.3,363.0 493.7,361.0 494.1,361.7 494.6,366.7 495.2,371.9 495.8,376.1 496.4,381.1 496.9,384.7 497.5,385.6 498.1,389.8 498.6,395.9 499.1,391.5 499.5,387.9 500.1,396.0 500.7,401.6 501.4,411.3 501.9,402.9 502.5,397.5 502.9,393.7 503.3,391.4 503.7,387.7 504.1,383.3 504.6,384.5 505.2,387.1 505.7,391.3 506.1,389.1 506.5,390.9 506.9,388.0 507.3,387.9 507.8,392.1 508.2,396.0 508.7,397.7 509.1,401.6 509.7,390.6 510.3,381.1 510.9,375.7 511.4,367.4 511.8,365.8 512.2,362.6 512.6,362.1 513.0,359.4 513.5,355.4 513.9,351.9 514.4,349.2 514.9,345.3 515.4,345.4 515.9,342.3 516.4,342.5 516.8,340.5 517.3,340.3 517.8,337.8 518.2,336.0 518.6,336.3 519.0,336.8 519.4,336.6 520.0,346.1 520.5,352.6 520.9,350.9 521.3,346.0 521.7,342.4 522.1,340.1 522.5,339.3 523.0,338.9 523.5,339.7 523.9,337.8 524.4,336.5 524.8,338.3 525.3,337.8 525.7,337.9 526.2,336.6 526.7,339.4 527.3,340.7 527.8,342.3 528.3,344.0 528.7,346.3 529.2,349.2 529.7,352.2 530.3,356.9 530.8,359.4 531.3,354.7 531.9,352.6 532.3,353.9 532.7,358.0 533.1,358.6 533.5,361.7 534.0,358.4 534.4,356.4 534.9,356.0 535.5,359.0 536.0,361.7 536.4,363.4 536.8,367.8 537.2,369.8 537.6,370.8 538.0,370.1 538.4,365.5 538.8,362.6 539.2,361.7 539.7,360.7 540.1,362.2 540.5,363.2 541.0,362.8 541.4,361.2 541.8,359.1 542.2,358.3 542.6,357.1 543.0,356.9 543.5,356.6 544.0,356.2 544.4,354.9 544.9,355.3 545.3,354.0 545.8,351.6 546.2,353.2 546.7,351.4 547.2,351.3 547.6,352.8 548.0,352.7 548.5,353.7 548.9,355.3 549.3,354.4 549.7,355.4 550.1,357.1 550.5,357.2 550.9,357.7 551.3,361.0 551.7,360.6 552.2,359.4 552.6,357.2 553.0,356.0 553.5,354.9 553.9,355.3 554.3,352.6 554.7,350.6 555.1,350.3 555.5,350.2 556.0,348.5 556.5,348.5 556.9,345.8 557.3,345.7 557.7,348.0 558.1,350.2 558.5,350.3 559.0,350.3 559.4,349.4 559.9,346.9 560.3,347.7 560.7,350.8 561.1,352.5 561.5,356.0 561.9,353.9 562.3,355.2 562.7,352.8 563.1,351.4 563.5,351.7 564.0,348.7 564.5,349.2 564.9,346.9 565.3,345.9 565.7,344.4 566.1,345.2 566.5,343.5 567.0,344.4 567.4,341.2 567.9,341.9 568.3,343.5 568.7,344.8 569.1,344.7 569.5,346.9 569.9,345.9 570.3,344.6 570.7,344.2 571.1,344.6 571.5,346.1 572.0,349.5 572.4,351.4 572.8,358.7 573.3,365.1 573.8,362.7 574.2,360.7 574.7,360.3 575.2,359.4 575.7,361.1 576.3,360.7 576.8,362.8 577.2,361.3 577.7,360.2 578.1,361.2 578.6,359.4 579.0,359.0 579.4,356.9 579.8,356.4 580.2,357.1 580.7,355.6 581.1,355.0 581.5,354.2 582.0,352.6 582.5,350.7 582.9,350.4 583.3,351.5 583.8,350.3 584.2,349.6 584.6,348.7 585.1,348.3 585.5,349.9 585.9,348.0 586.4,346.5 586.8,346.5 587.2,345.0 587.7,344.6 588.2,350.6 588.8,357.1 589.2,354.9 589.6,351.9 590.0,346.9 590.4,345.3 590.8,343.6 591.2,344.2 591.6,342.3 592.0,340.1 592.5,338.2 593.0,339.8 593.4,337.3 593.8,338.6 594.2,341.4 594.6,341.6 595.0,343.5 595.5,350.4 596.1,354.9 596.6,355.9 597.0,356.1 597.5,358.3 597.9,355.3 598.3,355.6 598.7,354.5 599.1,352.6 599.6,353.5 600.0,350.5 600.5,351.4 600.9,353.7 601.4,354.8 601.8,357.1 602.2,359.4 602.7,361.7 603.2,356.6 603.6,353.7"/>
<line x1="0" y1="361.5" x2="619" y2="361.5" stroke="#0000ff" stroke-width="1" shape-rendering="crispEdges"/>
<g stroke="#000" stroke-width="1" shape-rendering="crispEdges">
<line x1="619.5" y1="0" x2="619.5" y2="422"/>
<line x1="0" y1="421.5" x2="620" y2="421.5"/>
<line x1="620" y1="2.5" x2="623" y2="2.5"/>
<line x1="620" y1="7.5" x2="627" y2="7.5"/>
<line x1="620" y1="12.5" x2="623" y2="12.5"/>
<line x1="620" y1="16.5" x2="627" y2="16.5"/>
<line x1="620" y1="21.5" x2="623" y2="21.5"/>
<line x1="620" y1="27.5" x2="627" y2="27.5"/>
<line x1="620" y1="33.5" x2="623" y2="33.5"/>
<line x1="620" y1="39.5" x2="627" y2="39.5"/>
<line x1="620" y1="46.5" x2="623" y2="46.5"/>
<line x1="620" y1="52.5" x2="627" y2="52.5"/>
<line x1="620" y1="60.5" x2="623" y2="60.5"/>
<line x1="620" y1="69.5" x2="627" y2="69.5"/>
<line x1="620" y1="78.5" x2="623" y2="78.5"/>
<line x1="620" y1="89.5" x2="627" y2="89.5"/>
<line x1="620" y1="101.5" x2="623" y2="101.5"/>
<line x1="620" y1="115.5" x2="627" y2="115.5"/>
<line x1="620" y1="132.5" x2="623" y2="132.5"/>
<line x1="620" y1="151.5" x2="627" y2="151.5"/>
<line x1="620" y1="177.5" x2="623" y2="177.5"/>
<line x1="620" y1="214.5" x2="627" y2="214.5"/>
<line x1="620" y1="276.5" x2="623" y2="276.5"/>
<line x1="620" y1="309.5" x2="623" y2="309.5"/>
<line x1="620" y1="315.5" x2="627" y2="315.5"/>
<line x1="620" y1="321.5" x2="623" y2="321.5"/>
<line x1="620" y1="327.5" x2="627" y2="327.5"/>
<line x1="620" y1="332.5" x2="623" y2="332.5"/>
<line x1="620" y1="338.5" x2="627" y2="338.5"/>
<line x1="620" y1="344.5" x2="623" y2="344.5"/>
<line x1="620" y1="350.5" x2="627" y2="350.5"/>
<line x1="620" y1="356.5" x2="623" y2="356.5"/>
<line x1="620" y1="361.5" x2="627" y2="361.5"/>
<line x1="620" y1="367.5" x2="623" y2="367.5"/>
<line x1="620" y1="373.5" x2="627" y2="373.5"/>
<line x1="620" y1="379.5" x2="623" y2="379.5"/>
<line x1="620" y1="385.5" x2="627" y2="385.5"/>
<line x1="620" y1="391.5" x2="623" y2="391.5"/>
<line x1="620" y1="396.5" x2="627" y2="396.5"/>
<line x1="620" y1="402.5" x2="623" y2="402.5"/>
<line x1="620" y1="409.5" x2="623" y2="409.5"/>
<line x1="620" y1="415.5" x2="623" y2="415.5"/>
<line x1="1.5" y1="422" x2="1.5" y2="426"/>
<line x1="20.5" y1="422" x2="20.5" y2="426"/>
<line x1="39.5" y1="422" x2="39.5" y2="426"/>
<line x1="59.5" y1="422" x2="59.5" y2="439"/>
<line x1="78.5" y1="422" x2="78.5" y2="426"/>
<line x1="98.5" y1="422" x2="98.5" y2="426"/>
<line x1="117.5" y1="422" x2="117.5" y2="426"/>
<line x1="136.5" y1="422" x2="136.5" y2="426"/>
<line x1="156.5" y1="422" x2="156.5" y2="426"/>
<line x1="175.5" y1="422" x2="175.5" y2="426"/>
<line x1="194.5" y1="422" x2="194.5" y2="426"/>
<line x1="214.5" y1="422" x2="214.5" y2="426"/>
<line x1="233.5" y1="422" x2="233.5" y2="426"/>
<line x1="252.5" y1="422" x2="252.5" y2="439"/>
<line x1="272.5" y1="422" x2="272.5" y2="426"/>
<line x1="291.5" y1="422" x2="291.5" y2="426"/>
<line x1="310.5" y1="422" x2="310.5" y2="426"/>
<line x1="330.5" y1="422" x2="330.5" y2="426"/>
<line x1="349.5" y1="422" x2="349.5" y2="426"/>
<line x1="368.5" y1="422" x2="368.5" y2="426"/>
<line x1="388.5" y1="422" x2="388.5" y2="426"/>
<line x1="407.5" y1="422" x2="407.5" y2="426"/>
<line x1="427.5" y1="422" x2="427.5" y2="426"/>
<line x1="447.5" y1="422" x2="447.5" y2="439"/>
<line x1="466.5" y1="422" x2="466.5" y2="426"/>
<line x1="485.5" y1="422" x2="485.5" y2="426"/>
<line x1="506.5" y1="422" x2="506.5" y2="426"/>
<line x1="525.5" y1="422" x2="525.5" y2="426"/>
<line x1="545.5" y1="422" x2="545.5" y2="426"/>
<line x1="565.5" y1="422" x2="565.5" y2="426"/>
<line x1="585.5" y1="422" x2="585.5" y2="426"/>
<line x1="604.5" y1="422" x2="604.5" y2="426"/>
</g>
<rect x="6" y="11" width="125" height="11" fill="#c0c0c0"/>
<text x="7.6" y="21" style="font-size:11px" textLength="122" lengthAdjust="spacingAndGlyphs">www.buero-dr-schulz.de</text>
<text x="295.4" y="20.7" style="font-size:13px" textLength="24.2" lengthAdjust="spacingAndGlyphs">DAX</text>
<text x="197.4" y="325" style="font-size:11px" textLength="193" lengthAdjust="spacingAndGlyphs">prozentualer Abstand zur 200-Tage-Linie</text>
<text x="5.2" y="409" style="font-size:11px" textLength="93" lengthAdjust="spacingAndGlyphs">Hoppenstedt Charts</text>
<text x="664" y="23" text-anchor="end">9000</text>
<text x="664" y="45" text-anchor="end">7000</text>
<text x="664" y="58" text-anchor="end">6000</text>
<text x="664" y="75" text-anchor="end">5000</text>
<text x="664" y="95" text-anchor="end">4000</text>
<text x="664" y="121" text-anchor="end">3000</text>
<text x="664" y="157" text-anchor="end">2000</text>
<text x="664" y="220" text-anchor="end">1000</text>
<text x="664" y="333" text-anchor="end">30</text>
<text x="664" y="356" text-anchor="end">10</text>
<text x="664" y="379" text-anchor="end">-10</text>
<text x="664" y="403" text-anchor="end">-30</text>
<text x="-0.4" y="437">0</text>
<text x="60.7" y="437">1980</text>
<text x="253.7" y="437">1990</text>
<text x="449.4" y="437" textLength="26.2" lengthAdjust="spacingAndGlyphs">2000</text>
</svg></body></html>
